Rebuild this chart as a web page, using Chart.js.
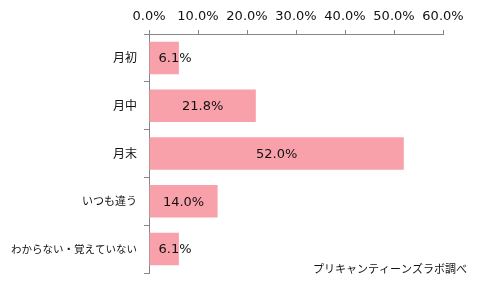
<!DOCTYPE html>
<html>
<head>
<meta charset="utf-8">
<script src="https://cdn.jsdelivr.net/npm/chart.js@4"></script>
<style>
  html, body { margin: 0; padding: 0; background: #fff; }
  #wrap { width: 480px; height: 288px; position: relative; }
</style>
</head>
<body>
<div id="wrap"><canvas id="chart"></canvas></div>
<script>
// データ
const categories = ["月初", "月中", "月末", "いつも違う", "わからない・覚えていない"];
const values = [6.1, 21.8, 52.0, 14.0, 6.1];
const source = "プリキャンティーンズラボ調べ";

// 値ラベル(バーの中央)
const valueLabels = {
  id: "valueLabels",
  afterDatasetsDraw(chart) {
    const ctx = chart.ctx;
    const meta = chart.getDatasetMeta(0);
    ctx.save();
    ctx.font = "13px 'DejaVu Sans'";
    ctx.fillStyle = "#111";
    ctx.textAlign = "center";
    ctx.textBaseline = "middle";
    meta.data.forEach((bar, i) => {
      const txt = values[i].toFixed(1) + "%";
      const w = ctx.measureText(txt).width;
      const mid = (bar.base + bar.x) / 2;
      const x = Math.max(mid, bar.base + w / 2 + 9);
      ctx.fillText(txt, x, bar.y + 1);
    });
    ctx.restore();
  }
};

// 出典
const sourceNote = {
  id: "sourceNote",
  afterDraw(chart) {
    const ctx = chart.ctx;
    ctx.save();
    ctx.font = "11px 'Noto Sans CJK JP'";
    ctx.fillStyle = "#111";
    ctx.textAlign = "right";
    ctx.textBaseline = "middle";
    ctx.fillText(source, 467, 269);
    ctx.restore();
  }
};

const ctx = document.getElementById("chart").getContext("2d");

new Chart(ctx, {
  type: "bar",
  data: {
    labels: categories,
    datasets: [{
      data: values,
      backgroundColor: "#F8A1AA",
      borderWidth: 0,
      categoryPercentage: 1,
      barPercentage: 0.68
    }]
  },
  options: {
    indexAxis: "y",
    responsive: true,
    maintainAspectRatio: false,
    animation: false,
    layout: { padding: { left: 0, right: 37, top: 0, bottom: 15 } },
    plugins: {
      legend: { display: false },
      tooltip: { enabled: false }
    },
    scales: {
      x: {
        position: "top",
        min: 0,
        max: 60,
        ticks: {
          stepSize: 10,
          padding: 6,
          color: "#111",
          font: { family: "'DejaVu Sans'", size: 13 },
          callback: v => v.toFixed(1) + "%"
        },
        grid: { drawOnChartArea: false, tickLength: 4, color: "#868686" },
        border: { color: "#868686" },
        afterFit(scale) { scale.height = 34; }
      },
      y: {
        ticks: {
          padding: 7,
          color: "#111",
          font: ctx => ({ family: "'Noto Sans CJK JP'", size: [12, 12, 12, 11, 10.5][ctx.index] })
        },
        grid: { drawOnChartArea: false, tickLength: 5, color: "#868686", offset: true },
        border: { color: "#868686" },
        afterFit(scale) { scale.width = 149; }
      }
    }
  },
  plugins: [valueLabels, sourceNote]
});
</script>
</body>
</html>
